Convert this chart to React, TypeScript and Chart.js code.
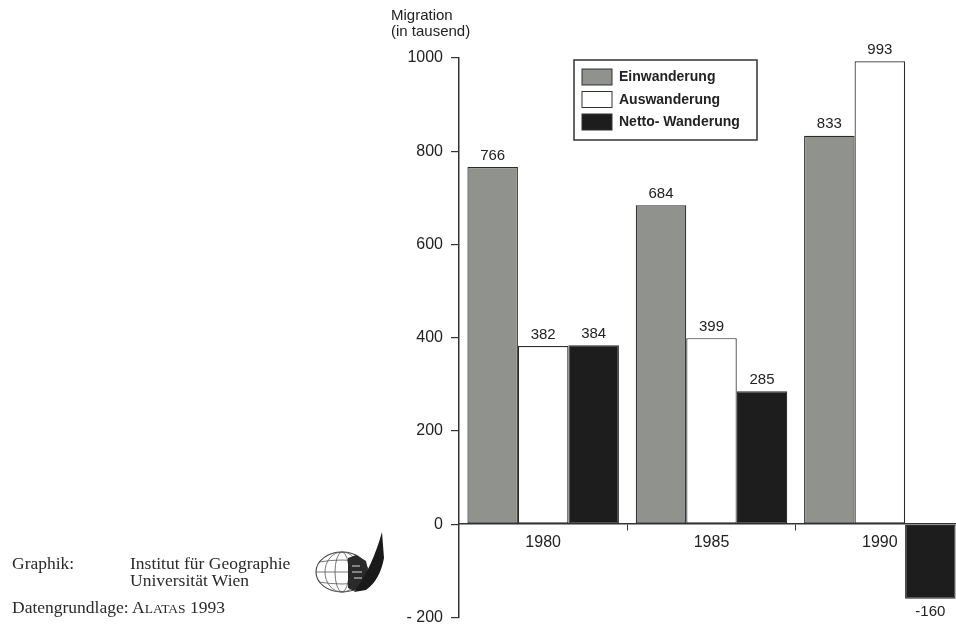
import React, { useEffect, useRef } from "react";
import { Chart, registerables } from "chart.js";

Chart.register(...registerables);

const categories = ["1980", "1985", "1990"];
const einwanderung = [766, 684, 833];
const auswanderung = [382, 399, 993];
const nettoWanderung = [384, 285, -160];
const seriesLabels = ["Einwanderung", "Auswanderung", "Netto- Wanderung"];
const yTicks = [1000, 800, 600, 400, 200, 0, -200];

const GRAY = "#8f928d";
const WHITE = "#ffffff";
const DARK = "#1d1d1d";
const INK = "#222222";

const valueLabels = {
  id: "valueLabels",
  afterDatasetsDraw(chart: any) {
    const ctx = chart.ctx;
    ctx.save();
    ctx.font = "15px 'Liberation Sans', Arial, sans-serif";
    ctx.fillStyle = INK;
    ctx.textAlign = "center";
    chart.data.datasets.forEach((ds: any, i: number) => {
      const meta = chart.getDatasetMeta(i);
      meta.data.forEach((el: any, j: number) => {
        const v = ds.data[j];
        if (v >= 0) {
          ctx.textBaseline = "bottom";
          ctx.fillText(String(v), el.x, el.y - 4);
        } else {
          ctx.textBaseline = "top";
          ctx.fillText(String(v), el.x, el.y + 6);
        }
      });
    });
    ctx.restore();
  },
};

const boxLegend = {
  id: "boxLegend",
  afterDraw(chart: any) {
    const ctx = chart.ctx;
    ctx.save();
    const x0 = 574, y0 = 60, w = 183, h = 80;
    ctx.fillStyle = "#ffffff";
    ctx.fillRect(x0, y0, w, h);
    ctx.strokeStyle = "#333";
    ctx.lineWidth = 1.5;
    ctx.strokeRect(x0, y0, w, h);
    ctx.font = "bold 14px 'Liberation Sans', Arial, sans-serif";
    ctx.textBaseline = "middle";
    ctx.textAlign = "left";
    chart.data.datasets.forEach((ds: any, i: number) => {
      const sy = 69 + i * 22.5;
      ctx.fillStyle = ds.backgroundColor;
      ctx.fillRect(582, sy, 30, 16);
      ctx.strokeStyle = "#333";
      ctx.lineWidth = 1;
      ctx.strokeRect(582, sy, 30, 16);
      ctx.fillStyle = INK;
      ctx.fillText(ds.label, 619, sy + 8.5);
    });
    ctx.restore();
  },
};

const axisTitle = {
  id: "axisTitle",
  afterDraw(chart: any) {
    const ctx = chart.ctx;
    ctx.save();
    ctx.font = "15px 'Liberation Sans', Arial, sans-serif";
    ctx.fillStyle = INK;
    ctx.textAlign = "left";
    ctx.textBaseline = "alphabetic";
    ctx.fillText("Migration", 391, 20);
    ctx.fillText("(in tausend)", 391, 36);
    ctx.restore();
  },
};

function ChartCanvas() {
  const ref = useRef<HTMLCanvasElement | null>(null);
  useEffect(() => {
    if (!ref.current) return;
    const chart = new Chart(ref.current, {
      type: "bar",
      data: {
        labels: categories,
        datasets: [
          { label: seriesLabels[0], data: einwanderung, backgroundColor: GRAY },
          { label: seriesLabels[1], data: auswanderung, backgroundColor: WHITE },
          { label: seriesLabels[2], data: nettoWanderung, backgroundColor: DARK },
        ].map((d) => ({
          ...d,
          borderColor: "#2a2a2a",
          borderWidth: 1.2,
          borderSkipped: false,
          categoryPercentage: 0.9,
          barPercentage: 1.0,
        })),
      },
      options: {
        responsive: false,
        animation: false,
        devicePixelRatio: 1,
        layout: { padding: { top: 58, bottom: 8, left: 0, right: 0 } },
        plugins: {
          legend: { display: false },
          tooltip: { enabled: false },
        },
        scales: {
          x: {
            type: "category",
            position: { y: 0 } as any,
            afterFit: (s: any) => {
              s.height = 0;
            },
            grid: {
              drawOnChartArea: false,
              offset: true,
              tickLength: 6,
              color: "#333",
              lineWidth: 1,
            },
            border: { display: true, color: "#333", width: 1.5 },
            ticks: {
              font: { family: "'Liberation Sans', Arial, sans-serif", size: 16 },
              color: INK,
              padding: 3,
              maxRotation: 0,
            },
          },
          y: {
            min: -200,
            max: 1000,
            afterFit: (s: any) => {
              s.width = 459;
            },
            afterBuildTicks: (s: any) => {
              s.ticks = yTicks.map((v) => ({ value: v }));
            },
            grid: {
              drawOnChartArea: false,
              tickLength: 8,
              color: "#333",
              lineWidth: 1.2,
            },
            border: { display: true, color: "#333", width: 1.5 },
            ticks: {
              font: { family: "'Liberation Sans', Arial, sans-serif", size: 16 },
              color: INK,
              padding: 8,
              callback: (v: any) => (Number(v) < 0 ? "- " + Math.abs(Number(v)) : String(v)),
            },
          },
        },
      },
      plugins: [valueLabels, boxLegend, axisTitle],
    });
    return () => chart.destroy();
  }, []);
  return <canvas ref={ref} width={964} height={635} style={{ display: "block" }} />;
}

function Logo() {
  return (
    <svg width="80" height="70" viewBox="0 0 80 70" style={{ position: "absolute", left: 310, top: 528 }}>
      <ellipse cx="32" cy="44" rx="26" ry="20" fill="none" stroke="#444" strokeWidth="1.1" />
      <ellipse cx="32" cy="44" rx="17" ry="20" fill="none" stroke="#555" strokeWidth="0.8" />
      <ellipse cx="32" cy="44" rx="7" ry="20" fill="none" stroke="#555" strokeWidth="0.8" />
      <line x1="6" y1="44" x2="58" y2="44" stroke="#555" strokeWidth="0.8" />
      <path d="M9 34 Q32 30 55 34" fill="none" stroke="#555" strokeWidth="0.8" />
      <path d="M9 54 Q32 58 55 54" fill="none" stroke="#555" strokeWidth="0.8" />
      <path d="M38 30 L46 27 L56 33 L58 44 L54 56 L44 63 L38 60 Z" fill="#2a2a2a" />
      <path d="M42 38 L50 38 M42 44 L52 44 M44 50 L52 50" stroke="#ddd" strokeWidth="1" />
      <path d="M44 64 Q62 40 72 4 L74 30 Q70 52 56 62 Z" fill="#1a1a1a" />
    </svg>
  );
}

export default function App() {
  const serif = "'Liberation Serif', 'Times New Roman', serif";
  const txt: React.CSSProperties = {
    position: "absolute",
    fontFamily: serif,
    fontSize: 17.5,
    color: "#2a2a2a",
    whiteSpace: "nowrap",
    lineHeight: "17px",
  };
  return (
    <div
      style={{
        position: "absolute",
        left: 0,
        top: 0,
        width: 956,
        height: 630,
        overflow: "hidden",
        background: "#fff",
      }}
    >
      <ChartCanvas />
      <div style={{ ...txt, left: 12, top: 555 }}>Graphik:</div>
      <div style={{ ...txt, left: 130, top: 555 }}>Institut für Geographie</div>
      <div style={{ ...txt, left: 130, top: 572 }}>Universität Wien</div>
      <div style={{ ...txt, left: 12, top: 599 }}>
        Datengrundlage: A<span style={{ fontSize: 13.5 }}>LATAS</span> 1993
      </div>
      <Logo />
    </div>
  );
}
